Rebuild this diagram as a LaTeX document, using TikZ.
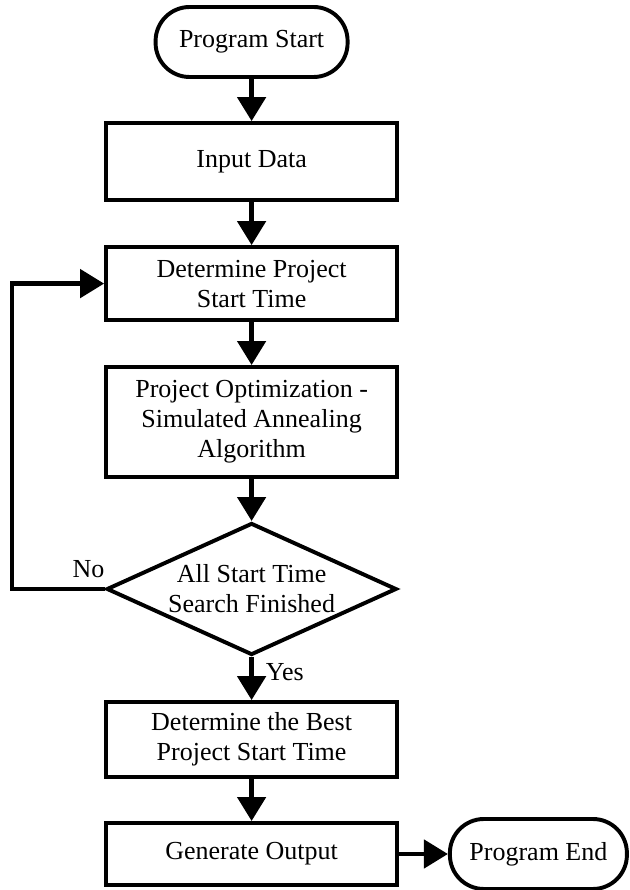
\documentclass[tikz,border=0pt]{standalone}
\usepackage{fontspec}
\setmainfont{Liberation Serif}
\usepackage{tikz}
\usetikzlibrary{
  arrows.meta,
  positioning,
  shapes.geometric
}

\begin{document}
\begin{tikzpicture}[
  font=\fontsize{18.5pt}{21.3pt}\selectfont,
  procbox/.style={draw, line width=2.8pt, minimum width=7.275cm, align=center, inner sep=2pt},
  termbox/.style={draw, line width=2.8pt, rounded corners=0.85cm, minimum height=1.75cm, align=center},
  decbox/.style={draw, diamond, aspect=2.2, line width=2.8pt, minimum width=7.25cm, minimum height=3.3cm, align=center, inner sep=0pt},
  arrow/.style={-{Triangle[length=0.6cm, width=0.7cm]}, line width=3.4pt},
]
\useasboundingbox (0,0) rectangle (15.725,22.25);

% Main column
\node[termbox, minimum width=4.8cm] (start) at (6.29, 21.2) {Program Start};
\node[procbox, minimum height=1.925cm] (input) at (6.29, 18.21) {Input Data};
\node[procbox, minimum height=1.825cm] (det) at (6.29, 15.16) {Determine Project\\Start Time};
\node[procbox, minimum height=2.75cm] (opt) at (6.29, 11.7) {Project Optimization -\\Simulated Annealing\\Algorithm};
\node[decbox] (dec) at (6.29, 7.525) {All Start Time\\Search Finished};
\node[procbox, minimum height=1.875cm] (best) at (6.29, 3.76) {Determine the Best\\Project Start Time};
\node[procbox, minimum height=1.55cm] (gen) at (6.29, 0.9) {Generate Output};

% End terminal
\node[termbox, minimum width=4.425cm] (end) at (13.46, 0.9) {Program End};

% Branch labels
\node[inner sep=0pt, above left=0.275cm and 0cm of dec.west] (nolbl) {No};
\node[inner sep=0pt, below right=0.15cm and 0.35cm of dec.south] (yeslbl) {Yes};

% Arrows
\draw[arrow] (start.south) -- (input.north);
\draw[arrow] (input.south) -- (det.north);
\draw[arrow] (det.south) -- (opt.north);
\draw[arrow] (opt.south) -- (dec.north);
\draw[arrow] (dec.south) -- (best.north);
\draw[arrow] (best.south) -- (gen.north);
\draw[arrow] (gen.east) -- (end.west);

% Loop back
\coordinate (loopx) at (0.3, 0);
\draw[arrow] (dec.west) -- (dec.west -| loopx) -- (det.west -| loopx) -- (det.west);
\end{tikzpicture}
\end{document}
